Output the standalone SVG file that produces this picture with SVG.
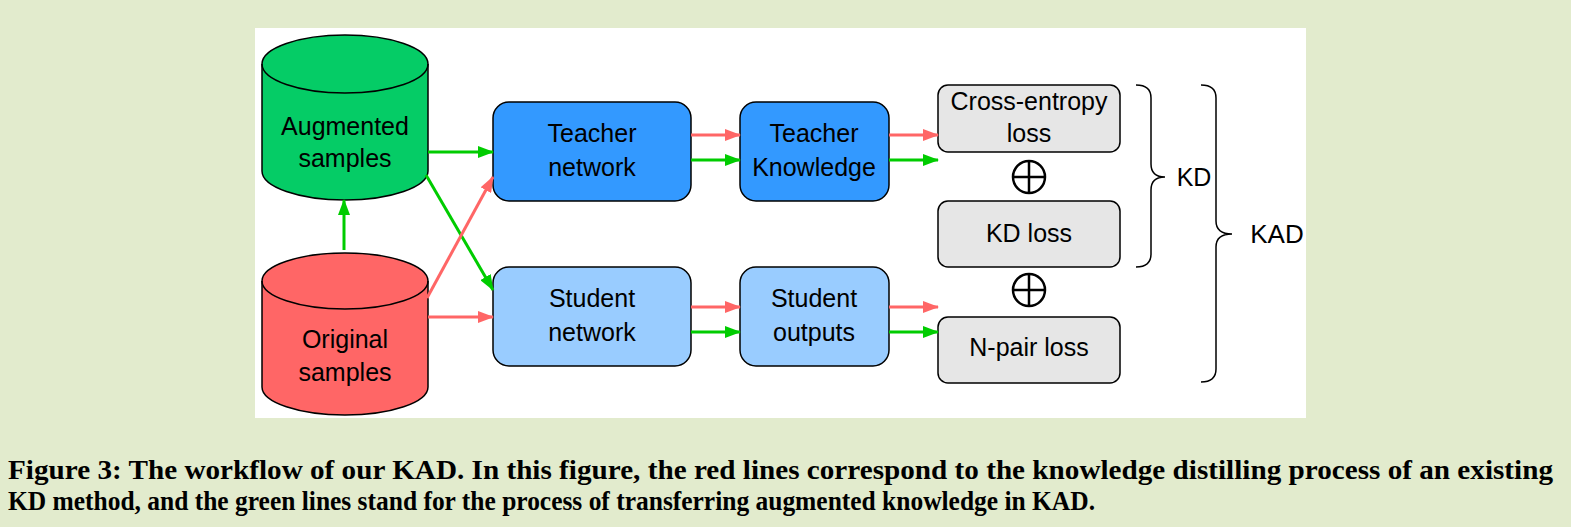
<svg xmlns="http://www.w3.org/2000/svg" width="1571" height="527" viewBox="0 0 1571 527">
<defs>
<marker id="ar" markerWidth="16" markerHeight="12" refX="15" refY="6" orient="auto" markerUnits="userSpaceOnUse"><path d="M0,0 L16,6 L0,12 z" fill="#ff6666"/></marker>
<marker id="ag" markerWidth="16" markerHeight="12" refX="15" refY="6" orient="auto" markerUnits="userSpaceOnUse"><path d="M0,0 L16,6 L0,12 z" fill="#00cc00"/></marker>
</defs>
<style>
.t{font-family:"Liberation Sans",Arial,sans-serif;font-size:25px;fill:#000;text-anchor:middle}
.box{stroke:#000;stroke-width:1.5}
.r{stroke:#ff6666;stroke-width:3;fill:none;marker-end:url(#ar)}
.g{stroke:#00cc00;stroke-width:3;fill:none;marker-end:url(#ag)}
.cap{font-family:"Liberation Serif","Times New Roman",serif;font-weight:bold;font-size:27px;fill:#000}
</style>
<rect width="1571" height="527" fill="#e2ebcd"/>
<rect x="255" y="28" width="1051" height="390" fill="#fff"/>
<g id="augmented">
<path d="M262,64 L262,171 A83,29 0 0 0 428,171 L428,64 A83,29 0 0 0 262,64 z" fill="#05cc66" class="box"/>
<path d="M262,64 A83,29 0 0 0 428,64" fill="none" class="box"/>
<text class="t" x="345" y="135">Augmented</text>
<text class="t" x="345" y="167">samples</text>
</g>
<g id="original">
<path d="M262,281 L262,387 A83,28 0 0 0 428,387 L428,281 A83,28 0 0 0 262,281 z" fill="#ff6666" class="box"/>
<path d="M262,281 A83,28 0 0 0 428,281" fill="none" class="box"/>
<text class="t" x="345" y="348">Original</text>
<text class="t" x="345" y="381">samples</text>
</g>
<g id="teacher-network">
<rect x="493" y="102" width="198" height="99" rx="16" fill="#3399ff" class="box"/>
<text class="t" x="592" y="142">Teacher</text>
<text class="t" x="592" y="176">network</text>
</g>
<g id="teacher-knowledge">
<rect x="740" y="102" width="149" height="99" rx="16" fill="#3399ff" class="box"/>
<text class="t" x="814" y="142">Teacher</text>
<text class="t" x="814" y="176">Knowledge</text>
</g>
<g id="student-network">
<rect x="493" y="267" width="198" height="99" rx="16" fill="#99ccff" class="box"/>
<text class="t" x="592" y="307">Student</text>
<text class="t" x="592" y="341">network</text>
</g>
<g id="student-outputs">
<rect x="740" y="267" width="149" height="99" rx="16" fill="#99ccff" class="box"/>
<text class="t" x="814" y="307">Student</text>
<text class="t" x="814" y="341">outputs</text>
</g>
<g id="ce-loss">
<rect x="938" y="85" width="182" height="67" rx="10" fill="#e6e6e6" class="box"/>
<text class="t" x="1029" y="110">Cross-entropy</text>
<text class="t" x="1029" y="142">loss</text>
</g>
<g id="kd-loss">
<rect x="938" y="201" width="182" height="66" rx="10" fill="#e6e6e6" class="box"/>
<text class="t" x="1029" y="242">KD loss</text>
</g>
<g id="npair-loss">
<rect x="938" y="317" width="182" height="66" rx="10" fill="#e6e6e6" class="box"/>
<text class="t" x="1029" y="356">N-pair loss</text>
</g>
<g id="oplus1" fill="none" stroke="#000" stroke-width="2.5">
<circle cx="1029" cy="177" r="16"/><path d="M1013,177 H1045 M1029,161 V193"/>
</g>
<g id="oplus2" fill="none" stroke="#000" stroke-width="2.5">
<circle cx="1029" cy="290" r="16"/><path d="M1013,290 H1045 M1029,274 V306"/>
</g>
<g id="kd-brace">
<path d="M1136,85 Q1151,85 1151,98 L1151,164 Q1151,177 1165,177 Q1151,177 1151,190 L1151,254 Q1151,267 1136,267" fill="none" stroke="#000" stroke-width="1.5"/>
<text class="t" x="1194" y="186">KD</text>
</g>
<g id="kad-brace">
<path d="M1201,85 Q1216,85 1216,98 L1216,221 Q1216,234 1232,234 Q1216,234 1216,247 L1216,369 Q1216,382 1201,382" fill="none" stroke="#000" stroke-width="1.5"/>
<text class="t" x="1277" y="243" style="font-size:26px">KAD</text>
</g>
<g id="connectors">
<line class="g" x1="344" y1="250" x2="344" y2="200"/>
<line class="g" x1="428" y1="152" x2="493" y2="152"/>
<line class="g" x1="426" y1="175" x2="493" y2="290"/>
<line class="r" x1="427" y1="298" x2="493" y2="177"/>
<line class="r" x1="428" y1="317" x2="493" y2="317"/>
<line class="r" x1="691" y1="135" x2="740" y2="135"/>
<line class="g" x1="691" y1="160" x2="740" y2="160"/>
<line class="r" x1="889" y1="135" x2="938" y2="135"/>
<line class="g" x1="889" y1="160" x2="938" y2="160"/>
<line class="r" x1="691" y1="307" x2="740" y2="307"/>
<line class="g" x1="691" y1="332" x2="740" y2="332"/>
<line class="r" x1="889" y1="307" x2="938" y2="307"/>
<line class="g" x1="889" y1="332" x2="938" y2="332"/>
</g>
<text class="cap" x="8" y="479" textLength="1545" lengthAdjust="spacingAndGlyphs">Figure 3: The workflow of our KAD. In this figure, the red lines correspond to the knowledge distilling process of an existing</text>
<text class="cap" x="8" y="510" textLength="1087" lengthAdjust="spacingAndGlyphs">KD method, and the green lines stand for the process of transferring augmented knowledge in KAD.</text>
</svg>
